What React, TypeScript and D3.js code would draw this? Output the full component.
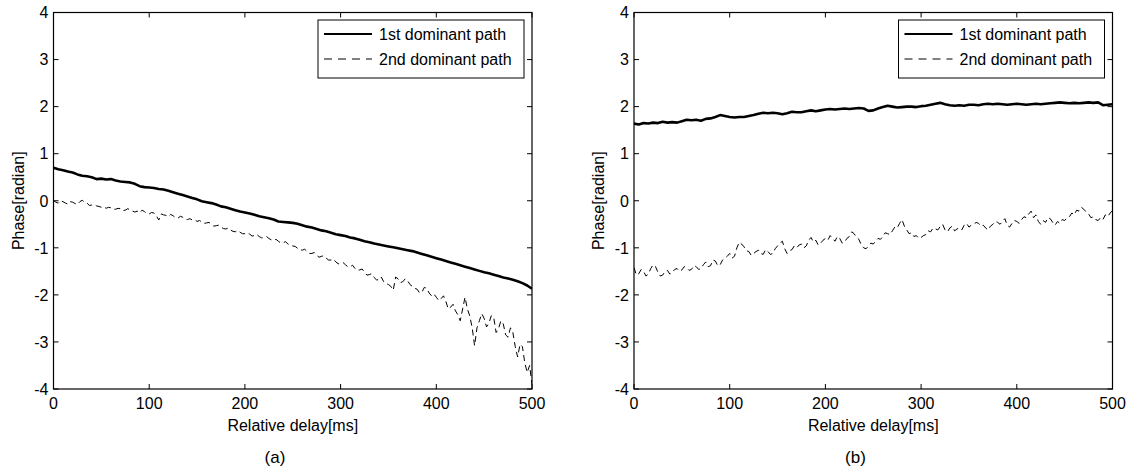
import React from "react";
import * as d3 from "d3";

const xTicks = [0, 100, 200, 300, 400, 500];
const yTicks = [-4, -3, -2, -1, 0, 1, 2, 3, 4];
const legendLabels = ["1st dominant path", "2nd dominant path"];
const panelLabels = ["(a)", "(b)"];
const xLabel = "Relative delay[ms]";
const yLabel = "Phase[radian]";

// sample spacing of the series (ms)
const stepFirst = 5;
const stepSecond = 2.5;

const leftFirst = [
  0.70, 0.67, 0.65, 0.62, 0.60, 0.56, 0.53, 0.52, 0.50, 0.46,
  0.47, 0.45, 0.46, 0.43, 0.41, 0.40, 0.39, 0.36, 0.31, 0.29,
  0.28, 0.27, 0.25, 0.24, 0.21, 0.18, 0.15, 0.12, 0.09, 0.06,
  0.03, -0.01, -0.03, -0.05, -0.08, -0.12, -0.14, -0.17, -0.20, -0.23,
  -0.25, -0.27, -0.30, -0.33, -0.35, -0.37, -0.40, -0.44, -0.45, -0.46,
  -0.47, -0.49, -0.52, -0.55, -0.57, -0.60, -0.63, -0.65, -0.68, -0.71,
  -0.73, -0.75, -0.78, -0.80, -0.83, -0.86, -0.88, -0.91, -0.93, -0.95,
  -0.97, -0.99, -1.01, -1.03, -1.05, -1.07, -1.10, -1.13, -1.16, -1.19,
  -1.22, -1.25, -1.28, -1.31, -1.34, -1.37, -1.40, -1.43, -1.46, -1.49,
  -1.52, -1.54, -1.57, -1.60, -1.63, -1.65, -1.68, -1.71, -1.75, -1.80,
  -1.87,
];

const leftSecond = [
  0.00, -0.03, -0.05, 0.00, -0.02, -0.05, -0.07, -0.02, -0.03, -0.06, -0.08, -0.02, 0.01, -0.03, -0.05, -0.10, -0.09, -0.08, -0.11, -0.12,
  -0.14, -0.13, -0.16, -0.14, -0.15, -0.18, -0.18, -0.16, -0.17, -0.21, -0.20, -0.17, -0.19, -0.22, -0.24, -0.22, -0.26, -0.20, -0.23, -0.27,
  -0.28, -0.25, -0.26, -0.32, -0.41, -0.28, -0.30, -0.31, -0.34, -0.29, -0.32, -0.36, -0.37, -0.33, -0.35, -0.39, -0.40, -0.38, -0.41, -0.40,
  -0.44, -0.42, -0.45, -0.48, -0.47, -0.46, -0.50, -0.54, -0.53, -0.52, -0.56, -0.59, -0.60, -0.58, -0.62, -0.65, -0.66, -0.63, -0.67, -0.70,
  -0.70, -0.68, -0.71, -0.75, -0.74, -0.72, -0.76, -0.79, -0.78, -0.76, -0.80, -0.83, -0.84, -0.82, -0.86, -0.90, -0.89, -0.87, -0.92, -0.95,
  -0.96, -0.97, -1.01, -1.04, -1.05, -1.03, -1.08, -1.12, -1.12, -1.10, -1.16, -1.20, -1.18, -1.17, -1.22, -1.26, -1.26, -1.24, -1.30, -1.34,
  -1.33, -1.31, -1.36, -1.40, -1.40, -1.37, -1.44, -1.48, -1.47, -1.45, -1.52, -1.58, -1.57, -1.55, -1.63, -1.68, -1.68, -1.62, -1.72, -1.76,
  -1.78, -1.82, -1.90, -1.62, -1.66, -1.74, -1.72, -1.66, -1.70, -1.78, -1.82, -1.86, -1.88, -1.96, -1.94, -1.84, -1.86, -1.96, -2.02, -1.98,
  -2.05, -2.12, -2.08, -2.02, -2.14, -2.30, -2.26, -2.20, -2.34, -2.42, -2.55, -2.30, -2.05, -2.30, -2.45, -2.70, -3.08, -2.70, -2.55, -2.40,
  -2.50, -2.68, -2.60, -2.44, -2.48, -2.80, -2.72, -2.55, -2.62, -2.85, -2.90, -2.70, -2.80, -3.10, -3.32, -3.05, -3.10, -3.45, -3.65, -3.50,
  -3.90,
];

const rightFirst = [
  1.64, 1.62, 1.65, 1.64, 1.66, 1.65, 1.68, 1.66, 1.67, 1.66,
  1.69, 1.72, 1.71, 1.72, 1.70, 1.74, 1.75, 1.78, 1.82, 1.80,
  1.78, 1.77, 1.78, 1.78, 1.80, 1.82, 1.85, 1.87, 1.86, 1.87,
  1.86, 1.84, 1.86, 1.89, 1.88, 1.88, 1.90, 1.92, 1.90, 1.92,
  1.94, 1.95, 1.94, 1.95, 1.96, 1.95, 1.96, 1.97, 1.96, 1.91,
  1.92, 1.96, 1.99, 2.02, 2.00, 1.98, 1.99, 2.00, 2.00, 1.99,
  2.01, 2.02, 2.04, 2.06, 2.08, 2.05, 2.03, 2.02, 2.03, 2.02,
  2.04, 2.04, 2.03, 2.05, 2.06, 2.05, 2.06, 2.05, 2.04, 2.05,
  2.06, 2.05, 2.04, 2.05, 2.06, 2.05, 2.06, 2.07, 2.08, 2.09,
  2.08, 2.07, 2.08, 2.07, 2.08, 2.09, 2.08, 2.09, 2.03, 2.04,
  2.05,
];

const rightSecond = [
  -1.42, -1.58, -1.55, -1.46, -1.50, -1.60, -1.56, -1.44, -1.36, -1.40, -1.52, -1.60, -1.58, -1.50, -1.48, -1.56, -1.52, -1.46, -1.44, -1.50,
  -1.47, -1.40, -1.42, -1.48, -1.46, -1.38, -1.40, -1.46, -1.44, -1.36, -1.30, -1.40, -1.38, -1.26, -1.28, -1.38, -1.36, -1.26, -1.22, -1.18,
  -1.12, -1.22, -1.18, -1.00, -0.88, -0.92, -0.98, -1.06, -1.08, -1.16, -1.12, -1.08, -1.05, -1.12, -1.14, -1.04, -1.08, -1.14, -1.12, -1.02,
  -0.96, -0.90, -0.86, -1.02, -1.12, -1.06, -1.04, -0.96, -1.00, -0.94, -0.92, -1.00, -0.96, -0.84, -0.78, -0.88, -0.84, -0.94, -0.90, -0.84,
  -0.80, -0.84, -0.74, -0.80, -0.86, -0.76, -0.80, -0.90, -0.88, -0.80, -0.76, -0.66, -0.70, -0.78, -0.82, -0.94, -1.00, -1.02, -0.96, -0.90,
  -0.92, -0.86, -0.80, -0.82, -0.76, -0.68, -0.70, -0.72, -0.64, -0.56, -0.58, -0.48, -0.40, -0.54, -0.62, -0.70, -0.68, -0.76, -0.74, -0.80,
  -0.78, -0.74, -0.72, -0.64, -0.66, -0.58, -0.60, -0.62, -0.55, -0.50, -0.62, -0.66, -0.58, -0.54, -0.64, -0.60, -0.58, -0.62, -0.52, -0.48,
  -0.56, -0.52, -0.50, -0.46, -0.48, -0.54, -0.52, -0.58, -0.62, -0.54, -0.50, -0.44, -0.46, -0.50, -0.44, -0.38, -0.52, -0.56, -0.48, -0.42,
  -0.44, -0.48, -0.40, -0.34, -0.36, -0.28, -0.22, -0.36, -0.30, -0.44, -0.50, -0.42, -0.46, -0.36, -0.38, -0.46, -0.52, -0.44, -0.48, -0.40,
  -0.42, -0.36, -0.34, -0.26, -0.30, -0.20, -0.22, -0.14, -0.18, -0.24, -0.28, -0.36, -0.34, -0.40, -0.42, -0.36, -0.40, -0.30, -0.34, -0.26,
  -0.21,
];

const FONT = "'Liberation Sans', Arial, Helvetica, sans-serif";
const W = 1135;
const H = 472;

type PanelProps = {
  left: number;
  id: string;
  first: number[];
  second: number[];
  label: string;
};

const plotTop = 12.5;
const plotBottom = 389;
const plotWidth = 478.5;
const tickLen = 5;

function Panel({ left, id, first, second, label }: PanelProps) {
  const right = left + plotWidth;
  const x = d3.scaleLinear().domain([0, 500]).range([left, right]);
  const y = d3.scaleLinear().domain([-4, 4]).range([plotBottom, plotTop]);
  const lineFirst = d3
    .line<number>()
    .x((_, i) => x(i * stepFirst))
    .y((d) => y(d));
  const lineSecond = d3
    .line<number>()
    .x((_, i) => x(i * stepSecond))
    .y((d) => y(d));

  const legendRight = right - 8;
  const legendLeft = legendRight - 206;
  const legendTop = 20;
  const legendBottom = 78;
  const rowY = [34, 59];

  return (
    <g>
      <defs>
        <clipPath id={`clip-${id}`}>
          <rect x={left} y={plotTop} width={plotWidth} height={plotBottom - plotTop} />
        </clipPath>
      </defs>
      <g clipPath={`url(#clip-${id})`}>
        <path d={lineFirst(first) || ""} fill="none" stroke="#000" strokeWidth={2.6} strokeLinejoin="round" />
        <path d={lineSecond(second) || ""} fill="none" stroke="#000" strokeWidth={1} strokeDasharray="6,4" />
      </g>
      <rect x={left} y={plotTop} width={plotWidth} height={plotBottom - plotTop} fill="none" stroke="#000" strokeWidth={1.2} />
      {xTicks.map((t) => (
        <g key={`x${t}`}>
          <line x1={x(t)} x2={x(t)} y1={plotBottom} y2={plotBottom - tickLen} stroke="#000" />
          <line x1={x(t)} x2={x(t)} y1={plotTop} y2={plotTop + tickLen} stroke="#000" />
          <text x={x(t)} y={409} textAnchor="middle" fontSize={16} fontFamily={FONT}>
            {t}
          </text>
        </g>
      ))}
      {yTicks.map((t) => (
        <g key={`y${t}`}>
          <line x1={left} x2={left + tickLen} y1={y(t)} y2={y(t)} stroke="#000" />
          <line x1={right} x2={right - tickLen} y1={y(t)} y2={y(t)} stroke="#000" />
          <text x={left - 5} y={y(t)} dy="0.36em" textAnchor="end" fontSize={16} fontFamily={FONT}>
            {t}
          </text>
        </g>
      ))}
      <text x={(left + right) / 2} y={425} dy="0.36em" textAnchor="middle" fontSize={16} fontFamily={FONT}>
        {xLabel}
      </text>
      <text
        transform={`translate(${left - 35.5},${(plotTop + plotBottom) / 2}) rotate(-90)`}
        dy="0.36em"
        textAnchor="middle"
        fontSize={16}
        fontFamily={FONT}
      >
        {yLabel}
      </text>
      <text x={left + 221.5} y={457} dy="0.36em" textAnchor="middle" fontSize={17} fontFamily={FONT}>
        {label}
      </text>
      <rect x={legendLeft} y={legendTop} width={legendRight - legendLeft} height={legendBottom - legendTop} fill="#fff" stroke="#000" strokeWidth={1} />
      <line x1={legendLeft + 6} x2={legendLeft + 54} y1={rowY[0]} y2={rowY[0]} stroke="#000" strokeWidth={2.2} />
      <line x1={legendLeft + 6} x2={legendLeft + 54} y1={rowY[1]} y2={rowY[1]} stroke="#000" strokeWidth={1} strokeDasharray="8,6" />
      {legendLabels.map((l, i) => (
        <text key={l} x={legendLeft + 61} y={rowY[i]} dy="0.36em" fontSize={16} fontFamily={FONT}>
          {l}
        </text>
      ))}
    </g>
  );
}

export default function App() {
  return (
    <div style={{ position: "absolute", left: 0, top: 0 }}>
      <svg width={W} height={H} viewBox={`0 0 ${W} ${H}`} style={{ display: "block", background: "#fff" }}>
        <Panel left={53.5} id="a" first={leftFirst} second={leftSecond} label={panelLabels[0]} />
        <Panel left={634} id="b" first={rightFirst} second={rightSecond} label={panelLabels[1]} />
      </svg>
    </div>
  );
}
